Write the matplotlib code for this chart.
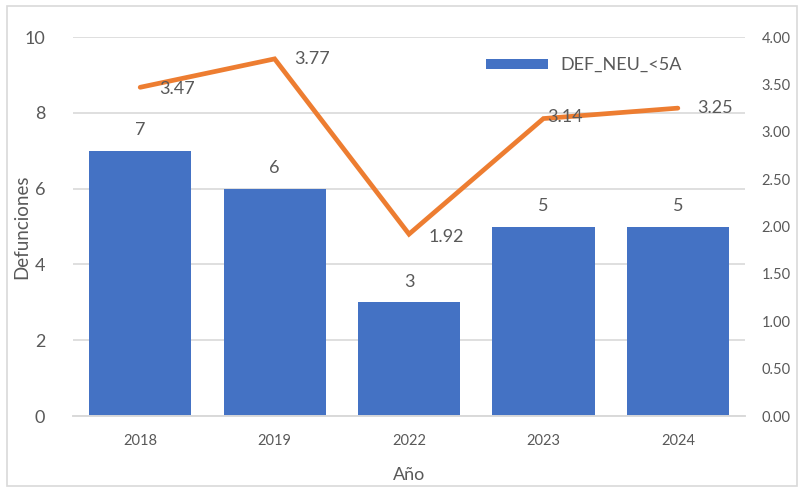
import matplotlib.pyplot as plt
from matplotlib.patches import Rectangle

# Data
years = ['2018', '2019', '2022', '2023', '2024']
defunciones = [7, 6, 3, 5, 5]
tasa = [3.47, 3.77, 1.92, 3.14, 3.25]
tasa_labels = ['3.47', '3.77', '1.92', '3.14', '3.25']

plt.rcParams['font.family'] = ['Lato', 'DejaVu Sans']
txt = '#595959'
grid = '#D9D9D9'

fig = plt.figure(figsize=(8.02, 4.88), dpi=100)
ax = fig.add_axes([0.091, 0.1475, 0.838, 0.7765])
ax2 = ax.twinx()

x = range(len(years))
bars = ax.bar(x, defunciones, width=0.76, color='#4472C4', label='DEF_NEU_<5A', zorder=2)
ax.set_ylim(0, 10)
ax.set_xlim(-0.5, len(years) - 0.5)
ax.set_yticks(range(0, 11, 2))
ax.set_xticks(list(x))
ax.set_xticklabels(years)
ax.grid(axis='y', color=grid, lw=1.2, zorder=0)
ax.set_axisbelow(True)

for b, v in zip(bars, defunciones):
    ax.annotate(str(v), (b.get_x() + b.get_width() / 2, v), xytext=(0, 9),
                textcoords='offset points', ha='center', va='bottom',
                fontsize=13, color=txt)

# Line on secondary axis
ax2.plot(list(x), tasa, color='#ED7D31', lw=3.4, solid_capstyle='round',
         solid_joinstyle='miter', zorder=3)
ax2.set_ylim(0, 4)
ax2.set_yticks([i * 0.5 for i in range(9)])
ax2.set_yticklabels([f'{i * 0.5:.2f}' for i in range(9)])
offsets = [(14, -1), (14, 0), (14, -2), (3, 1), (14, 0)]
for xi, v, lab, off in zip(x, tasa, tasa_labels, offsets):
    ax2.annotate(lab, (xi, v), xytext=off, textcoords='offset points',
                 ha='left', va='center', fontsize=13, color=txt)

for a in (ax, ax2):
    for s in ('top', 'left', 'right'):
        a.spines[s].set_visible(False)
    a.spines['bottom'].set_color(grid)
    a.spines['bottom'].set_linewidth(1.2)
    a.tick_params(length=0)

ax.tick_params(axis='y', labelsize=13, labelcolor=txt, pad=20)
ax.tick_params(axis='x', labelsize=10.5, labelcolor=txt, pad=13)
ax2.tick_params(axis='y', labelsize=10.5, labelcolor=txt, pad=12)

ax.set_ylabel('Defunciones', fontsize=13.5, color=txt)
ax.yaxis.set_label_coords(-0.064, 0.5)
ax.set_xlabel('Año', fontsize=13, color=txt)
ax.xaxis.set_label_coords(0.5, -0.135)

ax.legend(loc='upper right', bbox_to_anchor=(0.93, 0.99), frameon=False,
          fontsize=13, labelcolor=txt, handlelength=3.4, handleheight=0.45,
          handletextpad=0.7)

# Chart border
fig.patches.append(Rectangle((0.009, 0.004), 0.985, 0.983, transform=fig.transFigure,
                             fill=False, edgecolor=grid, lw=1.2))

fig.savefig('out.png', dpi=100)
